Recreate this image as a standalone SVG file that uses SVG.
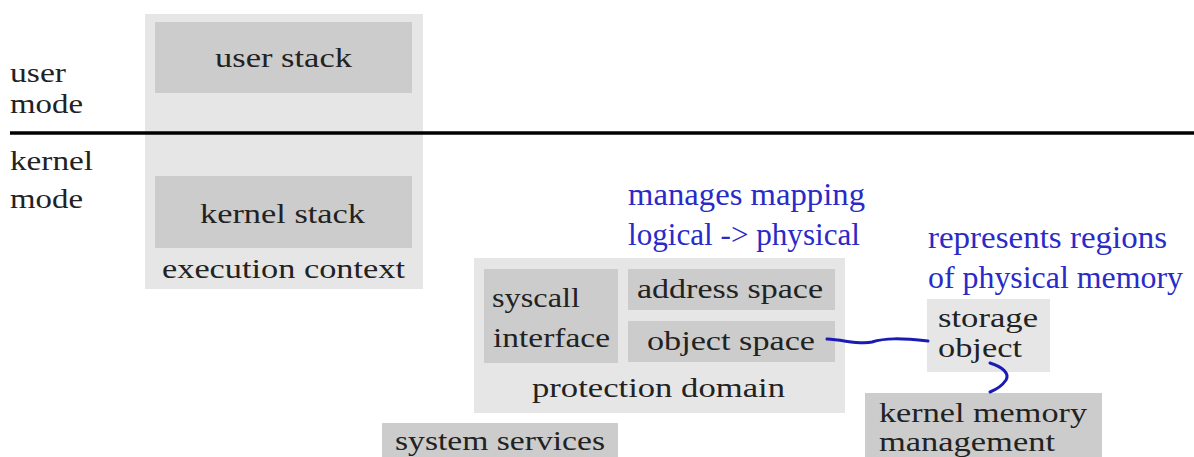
<svg xmlns="http://www.w3.org/2000/svg" width="1194" height="457" viewBox="0 0 1194 457">
<style>
.outer{fill:#e6e6e6}
.inner{fill:#cccccc}
.t{font-family:"Liberation Serif","DejaVu Serif",serif;font-size:28px;fill:#222}
.b{font-family:"Liberation Serif","DejaVu Serif",serif;font-size:31px;fill:#2a2ac8}
.conn{fill:none;stroke:#1a1ab4;stroke-width:3;stroke-linecap:round}
</style>
<rect width="1194" height="457" fill="#ffffff"/>
<g id="execution-context">
<rect class="outer" x="145" y="14" width="278" height="275"/>
<text class="t" x="162" y="278" textLength="243" lengthAdjust="spacingAndGlyphs">execution context</text>
</g>
<g id="user-stack">
<rect class="inner" x="155" y="22" width="257" height="71"/>
<text class="t" x="215" y="67" textLength="137" lengthAdjust="spacingAndGlyphs">user stack</text>
</g>
<g id="kernel-stack">
<rect class="inner" x="155" y="176" width="257" height="72"/>
<text class="t" x="200" y="223" textLength="165" lengthAdjust="spacingAndGlyphs">kernel stack</text>
</g>
<g id="mode-labels">
<line x1="10" y1="133" x2="1194" y2="133" stroke="#000" stroke-width="3.5"/>
<text class="t" x="10" y="82" textLength="56" lengthAdjust="spacingAndGlyphs">user</text>
<text class="t" x="10" y="113" textLength="73" lengthAdjust="spacingAndGlyphs">mode</text>
<text class="t" x="10" y="170" textLength="83" lengthAdjust="spacingAndGlyphs">kernel</text>
<text class="t" x="10" y="208" textLength="73" lengthAdjust="spacingAndGlyphs">mode</text>
</g>
<g id="protection-domain">
<rect class="outer" x="474" y="258" width="371" height="155"/>
<text class="t" x="532" y="397" textLength="253" lengthAdjust="spacingAndGlyphs">protection domain</text>
</g>
<g id="syscall-interface">
<rect class="inner" x="484" y="269" width="134" height="94"/>
<text class="t" x="492" y="307" textLength="88" lengthAdjust="spacingAndGlyphs">syscall</text>
<text class="t" x="493" y="347" textLength="117" lengthAdjust="spacingAndGlyphs">interface</text>
</g>
<g id="address-space">
<rect class="inner" x="628" y="269" width="207" height="41"/>
<text class="t" x="637" y="298" textLength="186" lengthAdjust="spacingAndGlyphs">address space</text>
</g>
<g id="object-space">
<rect class="inner" x="628" y="321" width="207" height="41"/>
<text class="t" x="647" y="350" textLength="168" lengthAdjust="spacingAndGlyphs">object space</text>
</g>
<g id="storage-object">
<rect class="outer" x="927" y="299" width="123" height="73"/>
<text class="t" x="938" y="327" textLength="100" lengthAdjust="spacingAndGlyphs">storage</text>
<text class="t" x="938" y="357" textLength="84" lengthAdjust="spacingAndGlyphs">object</text>
</g>
<g id="kernel-memory-management">
<rect class="inner" x="865" y="393" width="237" height="64"/>
<text class="t" x="879" y="422" textLength="208" lengthAdjust="spacingAndGlyphs">kernel memory</text>
<text class="t" x="879" y="451" textLength="176" lengthAdjust="spacingAndGlyphs">management</text>
</g>
<g id="system-services">
<rect class="inner" x="382" y="423" width="236" height="34"/>
<text class="t" x="395" y="450" textLength="210" lengthAdjust="spacingAndGlyphs">system services</text>
</g>
<g id="annotations">
<text class="b" x="628" y="205" textLength="237" lengthAdjust="spacingAndGlyphs">manages mapping</text>
<text class="b" x="628" y="245" textLength="232" lengthAdjust="spacingAndGlyphs">logical -&gt; physical</text>
<text class="b" x="928" y="248" textLength="239" lengthAdjust="spacingAndGlyphs">represents regions</text>
<text class="b" x="928" y="288" textLength="255" lengthAdjust="spacingAndGlyphs">of physical memory</text>
</g>
<g id="connectors">
<path class="conn" d="M827,339 C845,340 860,345 872,342 C885,338 900,338 928,341"/>
<path class="conn" d="M990,363 C1002,367 1010,373 1006,380 C1002,386 995,390 990,392"/>
</g>
</svg>
